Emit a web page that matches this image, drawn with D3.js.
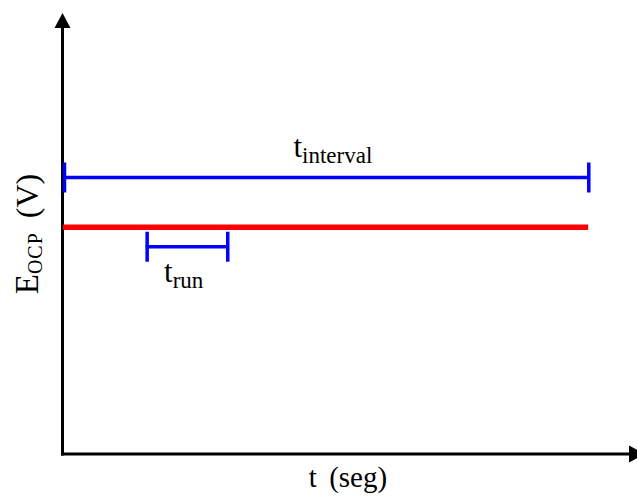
<!DOCTYPE html>
<html>
<head>
<meta charset="utf-8">
<script src="https://cdn.jsdelivr.net/npm/d3@7"></script>
<style>
  html, body { margin: 0; padding: 0; background: #fff; }
  svg { display: block; }
</style>
</head>
<body>
<svg id="chart" width="637" height="500"></svg>
<script>
// ---- data (schematic units) ----
const xDomain = [0, 10];
const yDomain = [0, 10];
const ocpLevel = [5.14];            // red E_OCP line level
const ocpSpan = [0, 9.15];          // red line time span
const intervalSpan = [0, 9.16];     // t_interval bracket
const intervalLevel = [6.27];
const runSpan = [1.44, 2.87];       // t_run bracket
const runLevel = [4.70];
const xLabel = ["t (seg)"];
const yLabelParts = ["E", "OCP", " (V)"];
const intervalLabel = ["t", "interval"];
const runLabel = ["t", "run"];

// ---- drawing ----
const FONT = "'Liberation Serif', 'DejaVu Serif', serif";
const svg = d3.select("#chart");
const x = d3.scaleLinear().domain(xDomain).range([63, 637]);
const y = d3.scaleLinear().domain(yDomain).range([454, 13]);

const x0 = x(xDomain[0]) - 0.5, y0 = y(yDomain[0]);

// axes lines
svg.append("line").attr("x1", x0).attr("x2", x0).attr("y1", y0 + 1.5).attr("y2", y(yDomain[1]) + 12)
  .attr("stroke", "#000").attr("stroke-width", 3);
svg.append("line").attr("x1", x0 - 1.5).attr("x2", x(xDomain[1]) - 6).attr("y1", y0).attr("y2", y0)
  .attr("stroke", "#000").attr("stroke-width", 3);
// arrowheads
const yt = y(yDomain[1]);
svg.append("path").attr("d", `M${x0},${yt} L${x0 - 8},${yt + 15} L${x0 + 8},${yt + 15} Z`).attr("fill", "#000");
const xt = x(xDomain[1]) + 8;
svg.append("path").attr("d", `M${xt},${y0} L${xt - 16},${y0 - 8.5} L${xt - 16},${y0 + 8.5} Z`).attr("fill", "#000");

// red OCP line
svg.append("line")
  .attr("x1", x(ocpSpan[0])).attr("x2", x(ocpSpan[1]))
  .attr("y1", y(ocpLevel[0])).attr("y2", y(ocpLevel[0]))
  .attr("stroke", "#ff0000").attr("stroke-width", 5.5);

function bracket(span, level, half) {
  const g = svg.append("g").attr("stroke", "#0000ff").attr("stroke-width", 3.5).attr("fill", "none");
  const yy = y(level);
  g.append("line").attr("x1", x(span[0])).attr("x2", x(span[1])).attr("y1", yy).attr("y2", yy);
  g.append("line").attr("x1", x(span[0]) + 1.5).attr("x2", x(span[0]) + 1.5).attr("y1", yy - half).attr("y2", yy + half);
  g.append("line").attr("x1", x(span[1])).attr("x2", x(span[1])).attr("y1", yy - half).attr("y2", yy + half);
}
bracket(intervalSpan, intervalLevel[0], 15);
bracket(runSpan, runLevel[0], 15);

function subLabel(parts, cx, baseline) {
  const t = svg.append("text").attr("x", cx).attr("y", baseline).attr("text-anchor", "middle")
    .attr("font-family", FONT).style("font-family", FONT);
  t.append("tspan").attr("font-size", 31).text(parts[0]);
  t.append("tspan").attr("font-size", 23).attr("dy", 6).text(parts[1]);
  return t;
}
subLabel(intervalLabel, (x(intervalSpan[0]) + x(intervalSpan[1])) / 2 + 7, y(intervalLevel[0]) - 20);
subLabel(runLabel, (x(runSpan[0]) + x(runSpan[1])) / 2 - 3, y(runLevel[0]) + 35);

// x label
svg.append("text").attr("x", 348).attr("y", 487).attr("text-anchor", "middle")
  .attr("font-family", FONT).style("font-family", FONT)
  .attr("font-size", 29).attr("word-spacing", 5).text(xLabel[0]);

// y label
const yl = svg.append("text").attr("transform", "translate(38,234) rotate(-90)").attr("text-anchor", "middle")
  .attr("font-family", FONT).style("font-family", FONT);
yl.append("tspan").attr("font-size", 33).text(yLabelParts[0]);
yl.append("tspan").attr("font-size", 20).attr("dy", 4).attr("letter-spacing", 1).text(yLabelParts[1]);
yl.append("tspan").attr("font-size", 32).attr("dy", -4).attr("word-spacing", 6)
  .attr("xml:space", "preserve").text(yLabelParts[2]);
</script>
</body>
</html>
